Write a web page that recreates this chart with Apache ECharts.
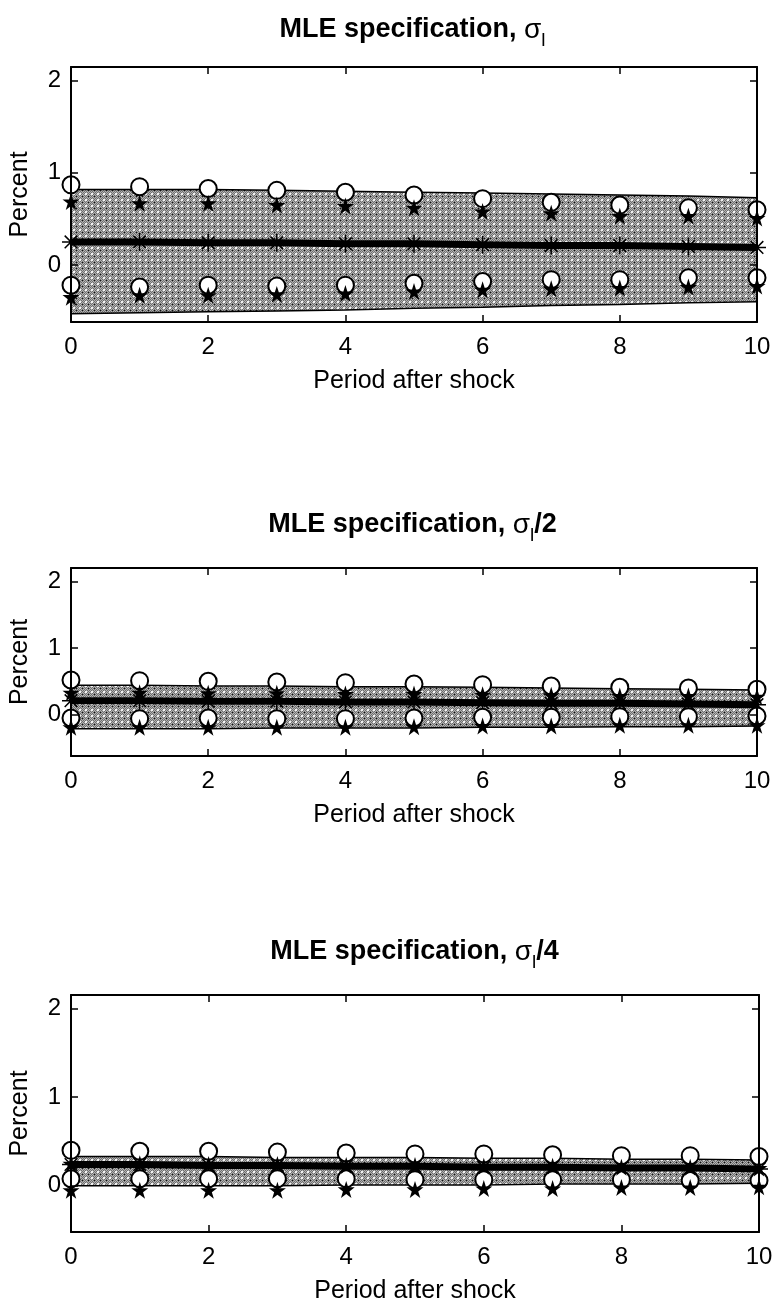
<!DOCTYPE html>
<html>
<head>
<meta charset="utf-8">
<script src="https://cdn.jsdelivr.net/npm/echarts@6/dist/echarts.min.js"></script>
<style>
html,body{margin:0;padding:0;background:#fff;}
#chart{width:777px;height:1311px;}
</style>
</head>
<body>
<div id="chart"></div>
<script>
// ---- data ----
const periods = [0,1,2,3,4,5,6,7,8,9,10];
const yTickValues = [0,1,2];

const p1BandUpper = [0.82,0.82,0.82,0.81,0.80,0.79,0.78,0.77,0.76,0.75,0.73];
const p1BandLower = [-0.53,-0.52,-0.51,-0.50,-0.49,-0.47,-0.46,-0.44,-0.43,-0.41,-0.40];
const p1Center    = [0.25,0.25,0.24,0.24,0.23,0.23,0.22,0.21,0.21,0.20,0.19];
const p1CircUp    = [0.87,0.85,0.83,0.81,0.79,0.76,0.72,0.68,0.65,0.62,0.60];
const p1StarUp    = [0.69,0.67,0.67,0.65,0.64,0.62,0.58,0.56,0.53,0.53,0.51];
const p1CircLo    = [-0.22,-0.24,-0.22,-0.23,-0.22,-0.20,-0.18,-0.16,-0.16,-0.14,-0.14];
const p1StarLo    = [-0.35,-0.33,-0.33,-0.32,-0.31,-0.29,-0.27,-0.26,-0.25,-0.24,-0.23];

const p2BandUpper = [0.44,0.44,0.43,0.43,0.42,0.42,0.41,0.40,0.39,0.38,0.37];
const p2BandLower = [-0.21,-0.21,-0.21,-0.20,-0.20,-0.20,-0.19,-0.19,-0.18,-0.18,-0.17];
const p2Center    = [0.21,0.21,0.20,0.20,0.19,0.19,0.18,0.17,0.17,0.16,0.15];
const p2CircUp    = [0.52,0.51,0.50,0.49,0.48,0.46,0.45,0.43,0.41,0.40,0.38];
const p2StarUp    = [0.33,0.33,0.32,0.32,0.31,0.31,0.30,0.29,0.28,0.28,0.27];
const p2CircLo    = [-0.05,-0.06,-0.05,-0.06,-0.06,-0.05,-0.04,-0.04,-0.03,-0.03,-0.02];
const p2StarLo    = [-0.19,-0.19,-0.19,-0.19,-0.19,-0.18,-0.17,-0.17,-0.16,-0.16,-0.16];

const p3BandUpper = [0.33,0.33,0.33,0.32,0.32,0.32,0.31,0.31,0.30,0.30,0.29];
const p3BandLower = [0.00,0.00,0.00,0.00,0.01,0.01,0.01,0.02,0.02,0.02,0.03];
const p3Center    = [0.24,0.24,0.23,0.23,0.22,0.22,0.21,0.21,0.20,0.20,0.19];
const p3CircUp    = [0.40,0.39,0.39,0.38,0.37,0.36,0.36,0.35,0.34,0.34,0.33];
const p3StarUp    = [0.25,0.25,0.24,0.24,0.23,0.23,0.22,0.22,0.21,0.21,0.20];
const p3CircLo    = [0.08,0.08,0.08,0.08,0.08,0.07,0.07,0.07,0.07,0.06,0.06];
const p3StarLo    = [-0.05,-0.05,-0.05,-0.05,-0.04,-0.04,-0.03,-0.03,-0.02,-0.02,-0.01];

const panelTitles = [
  ['MLE specification, ', 'σ', 'l', ''],
  ['MLE specification, ', 'σ', 'l', '/2'],
  ['MLE specification, ', 'σ', 'l', '/4']
];
const xAxisName = 'Period after shock';
const yAxisName = 'Percent';

// ---- layout / style ----
const FONT = '"Liberation Sans", Arial, Helvetica, sans-serif';
const grids = [
  {left: 68, top: 67,  width: 689, height: 255},
  {left: 68, top: 568, width: 689, height: 188},
  {left: 70, top: 995, width: 689, height: 237}
];
const yLimits = [[-0.62, 2.15], [-0.62, 2.2], [-0.52, 2.15]];
const titleY = [30, 525, 952];

const panels = [
  {up: p1BandUpper, lo: p1BandLower, c: p1Center, cu: p1CircUp, su: p1StarUp, cl: p1CircLo, sl: p1StarLo},
  {up: p2BandUpper, lo: p2BandLower, c: p2Center, cu: p2CircUp, su: p2StarUp, cl: p2CircLo, sl: p2StarLo},
  {up: p3BandUpper, lo: p3BandLower, c: p3Center, cu: p3CircUp, su: p3StarUp, cl: p3CircLo, sl: p3StarLo}
];

// halftone-like pattern for the band
function makePattern() {
  const cv = document.createElement('canvas');
  cv.width = 6; cv.height = 6;
  const ctx = cv.getContext('2d');
  for (let i = 0; i < 6; i++) {
    for (let j = 0; j < 6; j++) {
      ctx.fillStyle = ((i + j) % 2 === 0) ? '#b4b4b4' : '#6e6e6e';
      ctx.fillRect(i, j, 1, 1);
    }
  }
  ctx.fillStyle = '#f2f2f2';
  ctx.fillRect(1, 1, 2, 2);
  ctx.fillStyle = '#111';
  ctx.fillRect(4, 4, 1, 1);
  return cv;
}
const pattern = {image: makePattern(), repeat: 'repeat'};

const STAR = 'path://M50,2 L61.2,36.2 L97.6,36.2 L68.2,57.6 L79.4,91.8 L50,70.6 L20.6,91.8 L31.8,57.6 L2.4,36.2 L38.8,36.2 Z';
const ASTER = 'path://M0,50 L100,50 M50,0 L50,100 M15,15 L85,85 M85,15 L15,85';

const zip = (ys) => periods.map((x, i) => [x, ys[i]]);

const option = {
  animation: false,
  backgroundColor: '#fff',
  grid: grids.map(g => Object.assign({containLabel: false}, g)),
  xAxis: [],
  yAxis: [],
  series: [],
  graphic: []
};

const axLine = {show: true, onZero: false, lineStyle: {color: '#000', width: 2}};
const axTick = {show: true, inside: true, length: 7, lineStyle: {color: '#000', width: 1.5}};

grids.forEach((g, k) => {
  option.xAxis.push({
    type: 'value', gridIndex: k, min: 0, max: 10, interval: 2, position: 'bottom', z: 10,
    name: xAxisName, nameLocation: 'middle', nameGap: 47,
    nameTextStyle: {fontFamily: FONT, fontSize: 25, color: '#000'},
    axisLine: axLine, axisTick: axTick,
    axisLabel: {show: true, margin: 13, fontFamily: FONT, fontSize: 24, color: '#000'},
    splitLine: {show: false}
  });
  option.xAxis.push({
    type: 'value', gridIndex: k, min: 0, max: 10, interval: 2, position: 'top', z: 10,
    axisLine: axLine, axisTick: axTick, axisLabel: {show: false}, splitLine: {show: false}
  });
  option.yAxis.push({
    type: 'value', gridIndex: k, min: yLimits[k][0], max: yLimits[k][1], position: 'left', z: 10,
    name: yAxisName, nameLocation: 'middle', nameGap: 38, nameRotate: 90,
    nameTextStyle: {fontFamily: FONT, fontSize: 25, color: '#000'},
    axisLine: axLine,
    axisTick: Object.assign({customValues: yTickValues}, axTick),
    axisLabel: {show: true, margin: 10, customValues: yTickValues, fontFamily: FONT, fontSize: 24, color: '#000'},
    splitLine: {show: false}
  });
  option.yAxis.push({
    type: 'value', gridIndex: k, min: yLimits[k][0], max: yLimits[k][1], position: 'right', z: 10,
    axisLine: axLine,
    axisTick: Object.assign({customValues: yTickValues}, axTick),
    axisLabel: {show: false, customValues: yTickValues},
    splitLine: {show: false}
  });

  const xi = 2 * k, yi = 2 * k;
  const p = panels[k];

  // band: pattern fill below the upper edge, white fill below the lower edge
  option.series.push({
    type: 'line', xAxisIndex: xi, yAxisIndex: yi, data: zip(p.up), symbol: 'none', silent: true,
    lineStyle: {color: '#000', width: 1.5}, areaStyle: {color: pattern, opacity: 1, origin: 'start'}, z: 1
  });
  option.series.push({
    type: 'line', xAxisIndex: xi, yAxisIndex: yi, data: zip(p.lo), symbol: 'none', silent: true,
    lineStyle: {color: '#000', width: 1.5}, areaStyle: {color: '#fff', opacity: 1, origin: 'start'}, z: 1.5
  });
  // centre line
  option.series.push({
    type: 'line', xAxisIndex: xi, yAxisIndex: yi, data: zip(p.c),
    symbol: ASTER, symbolSize: 18, showAllSymbol: true,
    itemStyle: {color: 'rgba(0,0,0,0)', borderColor: '#000', borderWidth: 1.5},
    lineStyle: {color: '#000', width: 7}, z: 3
  });
  // circles
  [p.cu, p.cl].forEach(arr => option.series.push({
    type: 'scatter', xAxisIndex: xi, yAxisIndex: yi, data: zip(arr),
    symbol: 'circle', symbolSize: 17,
    itemStyle: {color: '#fff', borderColor: '#000', borderWidth: 2, opacity: 1}, z: 4
  }));
  // stars
  [p.su, p.sl].forEach(arr => option.series.push({
    type: 'scatter', xAxisIndex: xi, yAxisIndex: yi, data: zip(arr),
    symbol: STAR, symbolSize: 17,
    itemStyle: {color: '#000', opacity: 1}, z: 5
  }));

  const t = panelTitles[k];
  let txt = '{a|' + t[0] + '}{s|' + t[1] + '}{b|' + t[2] + '}';
  if (t[3]) txt += '{a|' + t[3] + '}';
  option.graphic.push({
    type: 'text', x: g.left + g.width / 2, y: titleY[k], silent: true,
    style: {
      text: txt, align: 'center', verticalAlign: 'middle', fill: '#000',
      rich: {
        a: {fontFamily: FONT, fontSize: 27, fontWeight: 'bold', color: '#000', lineHeight: 32},
        s: {fontFamily: FONT, fontSize: 28, color: '#000', lineHeight: 32},
        b: {fontFamily: FONT, fontSize: 19, color: '#000', lineHeight: 32, padding: [22, 0, 0, 0]}
      }
    }
  });
});

const chart = echarts.init(document.getElementById('chart'), null, {renderer: 'canvas'});
chart.setOption(option);
</script>
</body>
</html>
